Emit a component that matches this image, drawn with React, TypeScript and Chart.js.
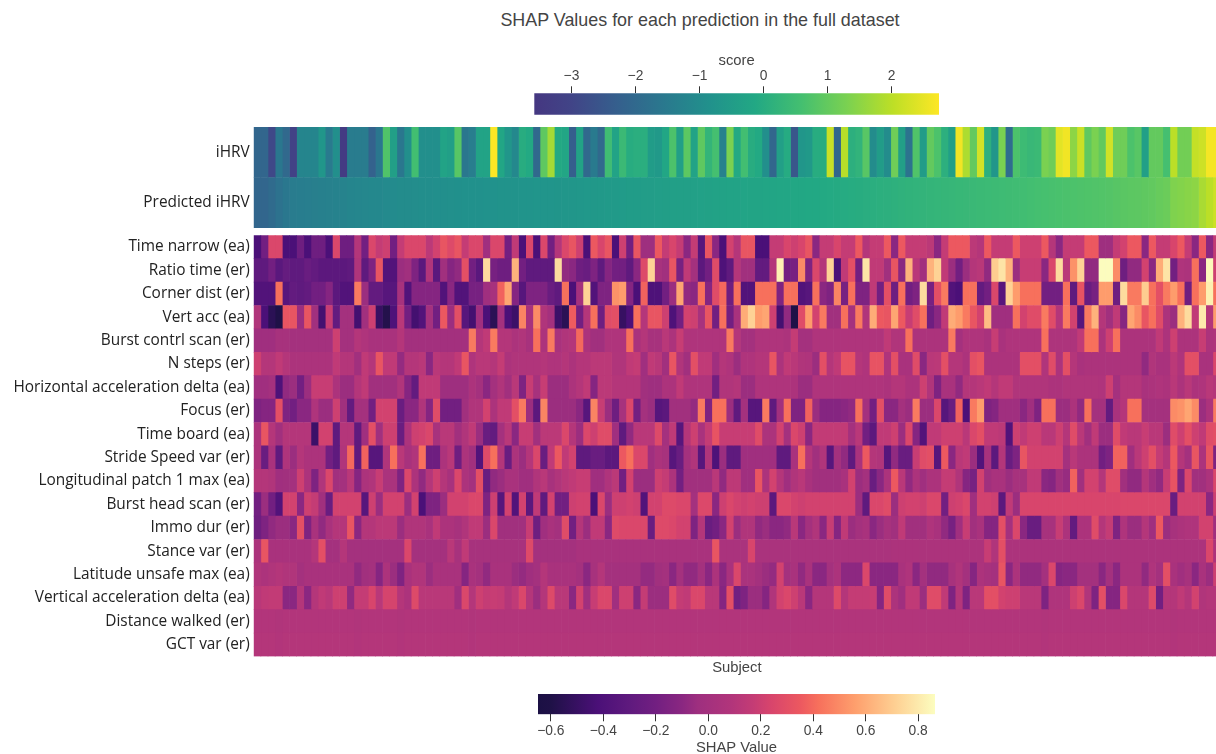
import React, { useEffect, useRef } from "react";
import { Chart, registerables } from "chart.js";

Chart.register(...registerables);

const titleText = "SHAP Values for each prediction in the full dataset";
const topLabels = ["iHRV", "Predicted iHRV"];
const rowLabels = [
  "Time narrow (ea)", "Ratio time (er)", "Corner dist (er)", "Vert acc (ea)", "Burst contrl scan (er)", "N steps (er)",
  "Horizontal acceleration delta (ea)", "Focus (er)", "Time board (ea)", "Stride Speed var (er)",
  "Longitudinal patch 1 max (ea)", "Burst head scan (er)", "Immo dur (er)", "Stance var (er)",
  "Latitude unsafe max (ea)", "Vertical acceleration delta (ea)", "Distance walked (er)", "GCT var (er)",
];

const iHRV = [
  -2.1,-2.1,-2.9,-1.6,-2,-3.1,-1.2,-1.2,-1.2,-.7,
  -1.5,-.9,-3.4,-1.45,-1.45,-1.45,-2.2,-1.6,.75,-.4,
  -1.6,-.9,.55,-.9,-.9,-.9,-.3,-.4,.85,-1.6,
  -1.4,-.3,-.3,2.74,-.2,-.7,-1.1,0,-.1,-2,
  .95,1.75,-.1,-.2,-2.3,-.3,-2,-1.5,-2,.5,
  -.3,.4,0,.05,.05,-.5,-.6,-.2,.7,-.4,
  .9,-.3,.95,.25,.6,-1.3,1.3,-.1,.55,0,
  -.1,-.9,-2.1,-.4,-.05,-2.5,-.7,-.6,0,0,
  2.15,-2.1,1.95,.1,.2,.85,-1,-.5,-1,1.15,
  -.4,-1.7,.75,-.5,1,.7,.1,-.4,2.6,1.85,
  1,2.25,.1,-.7,1.3,-1.9,.7,.45,.35,.4,
  1.3,1.15,2.45,2.6,1.5,2.15,.95,1.3,1,2.25,
  1.15,1.15,.7,.85,-.4,1,1,.6,2,1.2,
  1.2,2.1,2.2,2.65,2.65,
];
const predictedIHRV = [
  -2.1,-2.1,-1.95,-1.75,-1.6,-1.45,-1.42,-1.4,-1.38,-1.35,
  -1.3,-1.28,-1.25,-1.2,-1.18,-1.15,-1.12,-1.1,-1.05,-1.03,
  -1,-.98,-.97,-.95,-.94,-.92,-.9,-.89,-.88,-.86,
  -.85,-.84,-.83,-.82,-.8,-.79,-.78,-.76,-.75,-.74,
  -.73,-.72,-.71,-.7,-.68,-.66,-.64,-.62,-.6,-.58,
  -.56,-.54,-.52,-.5,-.48,-.46,-.45,-.44,-.42,-.41,
  -.4,-.38,-.36,-.35,-.33,-.32,-.3,-.29,-.27,-.26,
  -.25,-.23,-.22,-.2,-.18,-.17,-.15,-.14,-.12,-.1,
  -.08,-.06,-.04,-.02,0,.03,.06,.08,.1,.13,
  .16,.18,.2,.22,.25,.27,.29,.31,.33,.35,
  .38,.4,.42,.44,.46,.48,.5,.53,.56,.6,
  .62,.64,.66,.68,.7,.72,.74,.76,.78,.8,
  .84,.88,.9,.92,.95,.98,1.05,1.1,1.35,1.4,
  1.45,1.5,1.8,2,2.2,
];

const timeNarrow = [
  -.42,-.2,.25,.25,-.42,-.42,-.22,-.42,-.22,-.22,
  -.42,.25,-.22,-.22,.1,-.2,.25,.17,.2,-.2,
  .17,.25,.25,.25,.13,.22,.33,.27,.33,.17,
  .25,.25,-.03,.25,.25,-.2,.15,-.42,.25,-.42,
  .25,-.2,.1,.25,.33,.2,-.42,.35,.24,.33,
  -.42,.2,-.2,.33,-.04,-.04,.35,.17,.24,.17,
  -.1,.17,-.35,.33,-.1,-.42,.22,.1,.33,.33,
  -.42,-.42,.17,.17,.24,.2,.24,.33,-.1,.17,
  .17,.24,.17,.17,.35,.1,.17,.17,.35,-.1,
  .35,.17,.17,.17,.13,-.1,.17,.35,.35,.35,
  .13,.1,.35,.17,.17,.17,.35,.2,.2,.2,
  .35,.1,-.1,.17,.17,.17,.35,.35,-.04,-.04,
  .17,.22,.35,.35,-.1,.35,.17,.17,.24,.35,
  .17,-.1,.35,-.1,.17,
];
const ratioTime = [
  -.3,-.3,-.2,-.33,-.27,-.3,-.3,-.25,-.28,-.32,
  -.32,-.32,-.32,-.3,.08,-.3,-.15,.33,-.38,-.38,
  -.05,-.02,-.15,-.33,.08,-.33,-.02,-.12,-.08,.3,
  -.2,-.33,.75,-.18,-.22,-.22,.62,-.2,-.3,-.3,
  -.3,-.3,.75,-.08,-.1,-.22,-.25,-.15,-.3,-.12,
  -.2,-.2,-.3,-.1,.27,.72,.02,-.02,.33,-.18,
  .15,0,-.32,-.2,.28,-.4,-.3,.1,-.02,-.02,
  -.28,-.28,.1,.82,-.2,-.18,.5,-.15,.25,.1,
  .72,-.42,.15,.3,-.2,.78,.15,.15,-.02,.33,
  -.1,.62,.12,-.02,.62,.72,.15,-.05,-.2,-.05,
  .1,.12,-.08,.7,.78,.62,-.05,.18,.18,.18,
  -.1,.25,.75,.12,.52,.72,-.08,-.08,.86,.86,
  .5,-.22,-.08,-.08,.22,-.1,.6,.78,-.2,.07,
  .05,.42,-.1,.85,.2,
];
const cornerDist = [
  -.38,-.38,-.38,.42,-.35,-.28,-.3,-.28,-.2,-.2,
  -.12,-.32,-.38,-.38,.45,-.05,-.28,-.28,-.35,-.35,
  .02,-.38,-.12,-.12,-.12,-.12,-.38,-.1,-.38,-.38,
  -.18,-.18,-.03,.02,.38,.58,-.12,-.35,-.15,-.15,
  -.15,-.25,-.3,.42,-.42,0,.72,-.38,-.15,-.15,
  .52,.55,-.12,-.42,.38,-.4,-.4,-.2,-.05,.58,
  -.08,-.1,.42,-.12,.28,.4,-.22,.42,-.38,-.38,
  .42,.42,.42,-.15,.42,.42,-.38,-.35,.42,-.1,
  -.15,.48,-.18,.42,-.15,-.15,.15,-.2,.3,-.22,
  .42,-.2,-.15,.75,-.18,.3,.45,-.38,-.42,.42,
  .42,-.28,-.2,.25,-.35,.72,.55,.42,.42,.42,
  -.2,-.2,-.2,.42,-.3,.32,-.25,-.18,.55,.55,
  -.22,.75,.45,.45,.7,.42,.3,.45,.55,.42,
  -.22,.42,.55,.82,.42,
];
const vertAcc = [
  .08,-.42,-.55,-.6,.33,.33,-.05,.33,-.02,-.45,
  .18,-.28,0,0,-.45,-.02,.2,-.5,-.58,-.4,
  .12,-.2,-.45,-.38,0,-.2,.35,-.05,.3,-.35,
  -.45,-.03,-.42,-.55,0,-.42,-.48,.48,.02,.5,
  .08,0,-.48,-.55,.36,-.2,.1,.42,-.22,.28,
  .3,-.5,-.42,.42,.1,.33,.33,.2,-.4,-.2,
  .22,.2,.02,.33,-.2,.42,-.2,.03,.6,.72,
  .55,.58,.2,-.45,-.08,-.6,.28,.55,.22,.45,
  -.02,-.02,.42,0,.45,.08,.6,.35,.33,.58,
  .35,.18,.28,.42,-.22,-.1,.15,.6,.55,.45,
  .33,.22,.65,-.03,-.03,-.03,.42,.22,.28,.28,
  .45,.28,.1,.45,.22,-.35,.45,.62,.1,-.02,
  .15,-.12,.58,.5,.33,.42,.28,.05,-.05,.62,
  .75,.15,.8,.1,.55,
];
const burstContrlScan = [
  -.03,-.03,-.03,.02,.02,0,0,0,0,0,
  0,.2,0,0,.1,.07,.03,.03,.03,.03,
  .1,-.01,-.01,-.01,-.01,-.01,-.01,-.01,-.01,-.01,
  .45,.1,.15,.45,.1,.1,.05,.08,.02,.42,
  .05,.45,.03,.08,.1,.4,.05,-.02,-.02,.07,
  .07,.07,.42,.03,.1,.02,.02,.12,.05,.18,
  .07,.07,.07,.07,.07,.07,.45,.1,0,0,
  .07,.07,.07,.07,.05,.17,0,0,.07,.07,
  .07,.07,.07,.07,.07,.07,.07,.07,.15,.08,
  .08,.42,.05,.05,.05,.05,.05,.45,0,.07,
  .07,.07,.03,.18,.03,.07,.07,.07,.07,.07,
  .42,.06,.06,.06,.06,.15,.42,.42,.05,.2,
  .42,.05,.05,.05,.05,.05,.15,.05,.2,.05,
  .05,.05,.18,.05,.07,
];
const nSteps = [
  .2,.1,.1,.15,.1,.05,.05,.05,.05,.05,
  .05,.15,.1,.1,-.02,.15,.1,.33,.15,.15,
  -.07,.1,.1,.12,-.1,.12,.1,.1,.15,.33,
  .07,.12,.12,.1,.17,.05,.08,.08,.08,.08,
  .1,.07,.07,.1,.05,.1,.1,.13,.13,.13,
  .08,.08,.15,.17,-.03,.15,.12,-.02,.33,.08,
  -.02,.3,.15,.15,-.03,.1,.07,-.05,.07,.07,
  .1,.1,.33,.05,.15,.12,.08,.07,-.05,.3,
  .1,.15,.32,.32,.1,.07,.32,.32,.07,.3,
  .03,.03,.28,-.1,.12,.13,.3,.1,.1,.05,
  .3,.33,.05,.05,.05,.05,.05,.3,.3,.3,
  .08,.28,.05,.3,.1,.03,.05,.05,.05,.05,
  .05,.05,.05,.05,-.08,.08,.03,.03,.13,.07,
  .3,.3,.03,.03,.25,
];
const horizontalAccDelta = [
  -.03,-.03,0,-.4,-.08,-.05,-.2,-.05,.18,.18,
  .18,.05,-.05,-.05,.1,.15,-.02,-.02,-.02,-.02,
  .08,-.12,-.28,.15,.15,.15,-.04,-.04,-.04,-.04,
  .05,0,-.1,0,.08,-.02,.12,-.15,.18,.02,
  .18,-.05,-.05,-.05,.05,.1,.15,-.12,.13,.13,
  .1,.1,.1,.1,-.02,-.04,-.04,.05,.05,.15,
  .07,.07,.07,.07,-.2,.08,.08,.1,-.05,-.05,
  .07,.07,.07,.07,.07,.05,-.05,-.05,.07,.07,
  .07,.07,.07,.07,.07,.07,.07,.07,.05,.1,
  .1,.05,.05,.2,.08,-.15,.03,.03,-.08,.1,
  .1,.12,.15,.1,.15,.15,.08,.08,.08,.08,
  .08,.05,.05,.08,.08,.08,.08,.08,.07,.2,
  0,.1,.1,.1,.03,.05,.07,.05,.12,.05,
  .12,.05,.07,.12,.1,
];
const focus = [
  -.15,-.12,-.12,.3,-.15,-.2,-.1,-.1,.07,-.05,
  -.05,.2,-.02,-.28,0,0,-.2,.22,.22,.22,
  -.25,-.1,-.1,.08,-.12,.28,-.2,-.2,-.2,-.02,
  .08,.08,.22,.05,.15,.15,.3,.45,-.05,-.32,
  .48,-.05,-.05,-.05,-.05,-.1,-.35,.48,.18,-.05,
  -.22,.02,.25,-.2,0,-.05,-.35,-.32,-.02,-.02,
  -.02,-.07,.45,-.15,.42,.42,-.05,-.3,0,-.35,
  -.35,.45,-.3,-.02,.42,-.15,-.15,.38,-.05,-.12,
  -.12,-.12,-.1,-.08,.42,0,-.2,.3,-.1,-.1,
  0,-.05,.45,-.05,-.05,.25,-.35,-.25,.38,-.42,
  .45,.55,-.15,-.12,-.03,-.03,-.03,-.1,-.03,-.15,
  .42,.42,-.05,-.05,.05,-.08,.42,0,0,-.28,
  .03,.1,.42,.42,0,0,0,0,.5,.52,
  .58,.5,-.05,.05,.45,
];
const timeBoard = [
  .05,.33,.1,-.02,.1,.1,.1,.1,-.48,.22,
  .22,-.3,.1,.1,-.3,-.03,.3,-.02,.2,.2,
  -.25,.05,.2,.22,.25,.02,.12,.12,-.02,.08,
  .15,-.05,-.25,-.28,0,.12,-.1,.18,.18,-.02,
  .13,.13,.13,.25,.1,-.05,.25,.2,.28,.28,
  -.03,-.3,-.08,.12,.12,.12,.27,0,.15,-.35,
  .1,.2,.03,.17,.32,.18,.18,.18,.18,.18,
  .28,.05,.05,.22,0,.25,.2,-.1,.16,.16,
  .16,.16,.16,0,.12,-.2,-.32,.15,.15,.2,
  -.05,.25,-.12,-.38,.15,.15,.2,.2,.2,.12,
  .25,.3,.15,.15,.13,-.38,.2,.15,.2,.2,
  .12,.12,.2,.1,.28,.12,-.02,.15,-.05,-.05,
  .28,.15,.12,.12,.18,.12,.12,-.05,.28,.2,
  .3,.2,.15,.28,.3,
];
const strideSpeedVar = [
  .05,-.25,.03,-.3,.07,-.05,.1,.05,.05,.05,
  -.2,-.3,.08,.4,-.3,.38,-.35,-.35,.08,.42,
  .12,.02,.08,.42,-.22,-.22,.05,.12,-.22,.05,
  -.02,-.38,.27,.42,.1,-.25,.05,-.05,.1,.25,
  -.25,.15,.35,.15,.22,-.3,-.3,-.25,-.25,-.32,
  -.32,.35,.42,.25,.25,-.03,.05,.02,-.35,-.25,
  0,.08,-.35,.08,-.4,-.05,-.3,-.3,-.03,-.03,
  -.03,-.03,-.03,-.3,-.3,.03,.42,.1,-.02,.08,
  -.35,0,-.08,-.3,.03,.35,.1,.08,-.35,-.08,
  -.25,-.25,.18,.28,.3,-.35,.35,-.1,.12,.15,
  -.05,-.38,.02,-.32,.1,-.25,-.15,.33,.22,.22,
  .22,.22,.22,0,.12,.05,.05,.05,-.2,-.15,
  .38,.38,-.03,.12,.2,.3,.17,.1,.35,.1,
  0,.33,.05,.33,-.15,
];
const longitudinalPatch = [
  .1,.1,.08,-.03,-.02,0,.2,.05,-.15,.08,
  .25,-.02,0,.12,-.12,.05,.08,.18,.04,.04,
  -.15,.25,.05,-.08,.1,.2,.1,.02,.25,.05,
  0,.3,-.25,-.08,-.05,.03,.03,-.03,-.03,.08,
  .12,.02,.08,.12,.15,.18,.18,-.03,-.03,.07,
  .13,-.2,.22,-.05,-.05,-.05,.2,.17,.05,-.2,
  -.02,-.02,-.02,-.02,.12,-.08,.14,.14,-.03,-.03,
  .33,.05,.22,.1,-.03,.08,.12,.03,-.02,-.02,
  -.02,-.02,.03,.22,-.05,0,-.25,-.1,.05,.35,
  .12,-.08,.05,-.03,.05,.05,.17,.17,.08,-.12,
  -.18,.22,-.02,.03,.03,-.05,.02,.02,.15,.15,
  -.1,-.12,-.02,-.06,.38,-.02,.22,.22,.1,.28,
  .28,-.02,-.08,-.08,.1,-.03,-.08,.18,.32,-.15,
  .25,-.02,-.02,.05,.25,
];
const burstHeadScan = [
  -.2,-.05,-.2,-.38,.22,.22,-.1,.2,.17,-.02,
  -.25,.22,.22,.22,.22,-.35,.2,-.05,.22,.22,
  .22,-.05,.22,-.42,-.15,-.15,-.05,.22,.22,.22,
  .25,.25,-.15,.2,-.35,.22,-.38,.22,-.32,.15,
  -.3,.22,-.2,-.2,.2,.22,.22,-.42,.25,-.05,
  .2,.2,.22,.2,-.38,.22,.22,.27,.27,.25,
  .25,0,.26,.26,-.1,.2,.25,.22,.2,.22,
  .2,.2,-.32,.25,.25,.22,.2,.22,.22,.22,
  .22,.22,.22,.22,-.05,-.3,.25,.25,.28,-.05,
  .2,.22,.22,.2,.25,.25,-.2,.2,.22,.25,
  -.03,.22,.22,.2,-.32,.15,-.05,.24,.24,.24,
  .24,.24,.24,.24,.24,.24,.24,.24,.24,.24,
  .24,.25,.25,.25,.25,.25,.25,.25,-.25,.22,
  .22,.22,.22,-.1,.2,
];
const immoDur = [
  -.22,-.15,-.08,-.05,-.05,-.1,.3,-.15,.03,-.08,
  .03,.1,.1,.33,-.1,.1,.1,.13,.13,.13,
  -.05,.08,.08,.08,.03,.15,.05,.05,.02,.08,
  .15,.15,-.05,.25,-.02,-.02,-.02,-.02,.18,-.22,
  -.03,.03,0,.28,-.2,.1,-.05,.15,.15,-.1,
  .27,.25,.25,.25,.25,-.25,.27,.27,.25,.22,
  .22,-.15,.1,-.25,-.2,-.1,.22,-.05,.08,.08,
  -.08,-.05,-.1,-.1,-.08,.12,-.1,0,.08,-.1,
  .18,-.12,.15,-.05,0,.03,-.1,-.05,.02,-.02,
  .15,-.02,-.02,-.02,.07,.03,-.08,-.18,-.03,.18,
  -.02,.03,-.12,-.12,.3,0,.25,-.1,-.25,-.25,
  .02,.02,.18,.05,-.28,.05,.05,.28,.1,.17,
  -.15,.07,-.05,-.05,.1,-.03,.35,-.05,.02,.05,
  .07,.07,.22,.22,-.03,
];
const stanceVar = [
  .05,.33,.03,.03,.03,.03,.03,.03,.1,.3,
  0,0,.1,0,0,0,0,0,0,0,
  0,.25,0,0,0,0,0,.12,.02,.15,
  .02,.02,.02,.02,.02,.02,.02,.02,.27,0,
  0,0,0,0,0,.03,.03,.03,.03,.03,
  .03,.03,.03,.03,.03,.03,.03,.03,.03,.03,
  .03,.03,.03,.03,.33,.04,.04,.04,.04,.24,
  .04,.04,.04,.04,.04,.04,.04,.04,.04,.04,
  .04,.04,.04,.04,.04,.04,.04,.04,.04,.05,
  .05,.05,.05,.05,.05,.05,.05,.05,.05,.05,
  .05,.05,.18,.08,.3,.05,.05,.05,.05,.05,
  .05,.05,.05,.05,.05,.05,.05,.05,.05,.05,
  .05,.05,.05,.05,.05,.05,.05,.05,.05,.05,
  .05,.05,.05,.25,.05,
];
const latitudeUnsafe = [
  .08,.05,.08,.1,.08,.08,0,.03,.03,.03,
  .03,.03,.03,.03,-.08,-.02,0,-.12,.05,-.05,
  -.15,.03,.08,.08,-.05,.03,.03,.03,.03,-.12,
  .03,0,-.08,.03,.03,.03,-.05,-.07,-.03,0,
  .1,.03,.03,.03,.03,0,-.1,.02,.1,0,
  0,0,0,0,-.07,-.07,-.02,0,-.1,0,
  -.08,-.08,0,-.1,.05,-.1,.03,.25,.04,.04,
  0,-.05,-.07,.22,0,.03,-.08,.03,-.1,-.1,
  0,.05,-.09,-.09,-.09,.25,-.1,-.1,-.1,-.1,
  .03,.07,-.1,0,-.08,-.08,-.08,.02,.08,0,
  -.12,.05,.02,0,.33,-.1,.05,-.08,-.08,-.08,
  0,.25,-.12,-.1,-.1,0,0,0,-.1,0,
  -.1,.05,.05,.05,-.08,.07,0,.3,.03,-.03,
  .02,-.1,.03,-.05,.2,
];
const verticalAccDelta = [
  .12,.15,.16,.16,-.1,-.1,.1,-.1,.1,.15,
  .12,.2,.2,-.08,.17,.17,.24,.12,.23,.23,
  .1,.05,.27,.12,.12,.12,.12,.12,-.03,.25,
  .1,.2,.17,.18,.17,.1,.15,.25,.1,-.05,
  .1,.27,.12,.12,-.1,.22,-.03,.18,.25,.25,
  -.03,.2,.2,-.1,.17,-.05,-.05,-.05,.28,.17,
  .15,.25,.25,.12,.12,-.12,.3,-.2,-.15,-.05,
  -.05,-.12,.08,.22,.25,.2,.12,-.1,.1,.1,
  .1,.27,.1,.17,.17,.17,.18,-.12,.28,.05,
  -.03,.15,.15,-.05,.28,.28,.15,-.15,.1,-.15,
  .12,.12,.3,.3,.22,.2,.2,.12,.12,.12,
  -.15,.07,.07,.07,.2,.25,.08,-.15,.3,-.12,
  -.12,.25,.1,.1,.1,.27,-.2,.1,.1,.15,
  .1,.22,.08,.1,.1,
];
const distanceWalked = [
  .09,.09,.09,.08,.09,.09,.09,.09,.09,.09,
  .09,.09,.09,.09,.08,.09,.09,.09,.09,.09,
  .08,.09,.09,.09,.09,.09,.09,.09,.09,.09,
  .08,.09,.09,.09,.09,.09,.09,.09,.09,.09,
  .09,.09,.09,.09,.09,.09,.09,.09,.09,.09,
  .09,.09,.09,.09,.09,.09,.09,.09,.09,.09,
  .09,.09,.09,.09,.09,.09,.09,.09,.09,.09,
  .09,.09,.09,.09,.09,.09,.09,.09,.09,.09,
  .09,.09,.09,.09,.09,.09,.09,.09,.09,.09,
  .09,.09,.09,.09,.09,.09,.09,.09,.09,.09,
  .09,.09,.09,.09,.09,.09,.09,.09,.09,.09,
  .08,.09,.09,.09,.09,.09,.09,.09,.09,.09,
  .09,.09,.09,.09,.09,.09,.09,.09,.08,.09,
  .09,.09,.09,.09,.09,
];
const gctVar = [
  .1,.1,.1,.09,.1,.1,.1,.1,.1,.1,
  .1,.1,.1,.1,.09,.1,.1,.1,.1,.1,
  .09,.1,.1,.1,.1,.1,.1,.1,.1,.1,
  .09,.1,.1,.1,.1,.1,.1,.1,.1,.1,
  .1,.1,.1,.1,.1,.1,.1,.1,.1,.1,
  .1,.1,.1,.1,.1,.1,.1,.1,.1,.1,
  .1,.1,.1,.1,.1,.1,.1,.1,.1,.1,
  .1,.1,.1,.1,.1,.1,.1,.1,.1,.1,
  .1,.1,.1,.1,.1,.1,.1,.1,.1,.1,
  .1,.1,.1,.1,.1,.1,.1,.1,.1,.1,
  .1,.1,.1,.1,.1,.1,.1,.1,.1,.1,
  .09,.1,.1,.1,.1,.1,.1,.1,.1,.1,
  .1,.1,.1,.1,.1,.1,.1,.1,.09,.1,
  .1,.1,.1,.1,.1,
];

const topRows = [iHRV, predictedIHRV];
const shapRows = [
  timeNarrow, ratioTime, cornerDist, vertAcc, burstContrlScan, nSteps, horizontalAccDelta, focus, timeBoard,
  strideSpeedVar, longitudinalPatch, burstHeadScan, immoDur, stanceVar, latitudeUnsafe, verticalAccDelta,
  distanceWalked, gctVar,
];

const scoreStopValues = [-3.58, -3, -2.29, -1.57, -.85, -.13, .59, 1.3, 2.02, 2.74];
const scoreStopColors = ["#453781", "#414487", "#355f8d", "#2a788e", "#21918c", "#22a884", "#44bf70", "#7ad151", "#bddf26", "#fde725"];
const shapStopValues = [-.649, -.6, -.42, -.3, -.2, -.1, -.04, .09, .17, .24, .35, .42, .56, .71, .864];
const shapStopColors = ["#1b1044", "#1f1147", "#4b1078", "#5f1a7e", "#721f81", "#8a2781", "#9e2f7f", "#b2357b", "#c43c75", "#d8456c", "#ec5860", "#f7705c", "#fe9f6d", "#fecf92", "#fcfdbf"];

const hexRgb = (h: string) => [1, 3, 5].map((i) => parseInt(h.slice(i, i + 2), 16));
function colorAt(v: number, vals: number[], cols: string[]) {
  if (v <= vals[0]) return cols[0];
  for (let i = 1; i < vals.length; i++) {
    if (v <= vals[i]) {
      const f = (v - vals[i - 1]) / (vals[i] - vals[i - 1]);
      const a = hexRgb(cols[i - 1]);
      const b = hexRgb(cols[i]);
      return `rgb(${a.map((c, k) => Math.round(c + (b[k] - c) * f)).join(",")})`;
    }
  }
  return cols[cols.length - 1];
}

const sansFont = "'Liberation Sans', Arial, sans-serif";
const labelFont = "'Open Sans', sans-serif";
const tickColor = "#444444";

function heatConfig(labels: string[], rows: number[][], vals: number[], cols: string[], paddingTop: number, subject: boolean): any {
  const count = rows[0].length;
  const datasets = Array.from({ length: count }, (_, c) => ({
    data: rows.map(() => [c, c + 1]),
    backgroundColor: rows.map((r) => colorAt(r[c], vals, cols)),
    borderWidth: 0,
    barPercentage: 1,
    categoryPercentage: 1,
    grouped: false,
  }));
  return {
    type: "bar",
    data: { labels, datasets },
    options: {
      indexAxis: "y",
      animation: false,
      responsive: false,
      events: [],
      layout: { padding: { top: paddingTop, left: 0, right: 0, bottom: 0 } },
      plugins: { legend: { display: false }, tooltip: { enabled: false }, title: { display: false } },
      scales: {
        x: {
          type: "linear",
          min: 0,
          max: count,
          display: subject,
          grid: { display: false },
          border: { display: false },
          ticks: { display: false },
          title: { display: subject, text: "Subject", color: tickColor, font: { family: sansFont, size: 14.8 }, padding: 0 },
          afterFit: (s: any) => { if (subject) s.height = 20.5; },
        },
        y: {
          type: "category",
          grid: { display: false, drawTicks: false },
          border: { display: false },
          ticks: { color: "#222222", padding: 4, autoSkip: false, font: { family: labelFont, size: 15.4 } },
          afterFit: (s: any) => { s.width = 253.67; s.paddingTop = 0; s.paddingBottom = 0; },
        },
      },
    },
  };
}

function barConfig(name: string, min: number, max: number, step: number, digits: number, position: string, vals: number[], cols: string[], padding: any, axisHeight: number): any {
  return {
    type: "bar",
    data: {
      labels: [name],
      datasets: [{
        data: [[min, max]],
        borderWidth: 0,
        barPercentage: 1,
        categoryPercentage: 1,
        backgroundColor: (ctx: any) => {
          const area = ctx.chart.chartArea;
          if (!area) return cols[0];
          const g = ctx.chart.ctx.createLinearGradient(area.left, 0, area.right, 0);
          vals.forEach((v, i) => g.addColorStop((v - min) / (max - min), cols[i]));
          return g;
        },
      }],
    },
    options: {
      indexAxis: "y",
      animation: false,
      responsive: false,
      events: [],
      layout: { padding },
      plugins: { legend: { display: false }, tooltip: { enabled: false } },
      scales: {
        y: { display: false },
        x: {
          type: "linear",
          position,
          min,
          max,
          grid: { drawOnChartArea: false, drawTicks: true, tickLength: 7, color: "#333333" },
          border: { display: false },
          title: { display: true, text: name, color: tickColor, font: { family: sansFont, size: 14.8 }, padding: 0 },
          ticks: {
            stepSize: step,
            includeBounds: false,
            color: tickColor,
            padding: 2,
            maxRotation: 0,
            font: { family: sansFont, size: 13.8 },
            callback: (v: number) => Number(v).toFixed(digits).replace("-", "\u2212"),
          },
          afterFit: (s: any) => { s.height = axisHeight; },
        },
      },
    },
  };
}

function ChartCanvas({ config, left, top, width, height }: any) {
  const ref = useRef<HTMLCanvasElement>(null);
  useEffect(() => {
    const chart = new Chart(ref.current as HTMLCanvasElement, config);
    return () => chart.destroy();
  }, []);
  return <canvas ref={ref} width={width} height={height} style={{ position: "absolute", left, top, width, height, display: "block" }} />;
}

export default function App() {
  return (
    <div style={{ position: "absolute", left: 0, top: 0, width: 1216, height: 754, overflow: "hidden", background: "#fff", filter: "blur(0.35px)" }}>
      <div style={{ position: "absolute", left: 0, top: 10, width: 1400, textAlign: "center", font: `17.9px ${sansFont}`, color: "#444444", lineHeight: "20px" }}>{titleText}</div>
      <ChartCanvas left={300} top={52} width={800} height={63}
        config={barConfig("score", -3.58, 2.74, 1, 0, "top", scoreStopValues, scoreStopColors, { left: 234.3, right: 161, top: 0, bottom: 0.3 }, 41.3)} />
      <ChartCanvas left={0} top={127} width={1220} height={101}
        config={heatConfig(topLabels, topRows, scoreStopValues, scoreStopColors, 0, false)} />
      <ChartCanvas left={0} top={235} width={1220} height={442}
        config={heatConfig(rowLabels, shapRows, shapStopValues, shapStopColors, 0.3, true)} />
      <ChartCanvas left={300} top={680} width={800} height={77}
        config={barConfig("SHAP Value", -0.649, 0.864, 0.2, 1, "bottom", shapStopValues, shapStopColors, { left: 238, right: 165, top: 14, bottom: 0 }, 42.7)} />
    </div>
  );
}
